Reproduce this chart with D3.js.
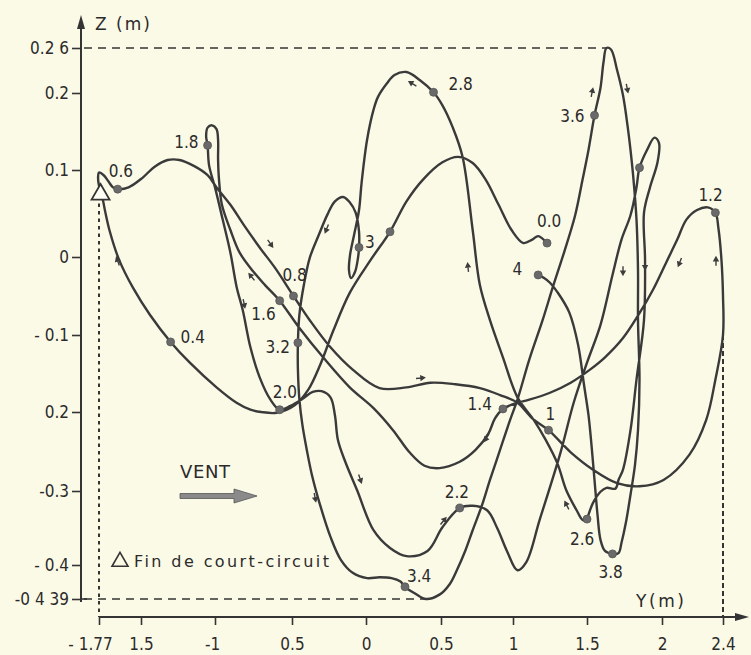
<!DOCTYPE html>
<html>
<head>
<meta charset="utf-8">
<script src="https://cdn.jsdelivr.net/npm/d3@7"></script>
<style>
  html, body { margin: 0; padding: 0; background: #fbfae7; }
  svg { display: block; }
  text { font-family: "DejaVu Sans Condensed", "DejaVu Sans", sans-serif; fill: #2b2b2b; }
  .wide { font-family: "DejaVu Sans", sans-serif; }
</style>
</head>
<body>
<svg id="chart" width="751" height="655"></svg>
<script>
// Horizontal graduations: lateral displacement Y (m), with the labels as printed
const yTickValues = [-1.77, -1.5, -1, -0.5, 0, 0.5, 1, 1.5, 2, 2.4];
const yTickLabels = ["- 1.77", "1.5", "-1", "0.5", "0", "0.5", "1", "1.5", "2", "2.4"];

// Vertical graduations: vertical displacement Z (m)
const zTickValues = [0.26, 0.2, 0.1, 0, -0.1, -0.2, -0.3, -0.4, -0.439];
const zTickLabels = ["0.2 6", "0.2", "0.1", "0", "- 0.1", "0.2", "-0.3", "- 0.4", "-0 4 39"];

// Conductor trajectory [Y, Z] in metres, in time order from t = 0.0 s to t = 4 s
const trajectory = [
  [1.23, 0.016], [1.17, 0.024], [1.13, 0.020], [1.07, 0.016], [0.99, 0.031], [0.90, 0.060],
  [0.81, 0.089], [0.72, 0.109], [0.62, 0.117], [0.51, 0.110], [0.38, 0.089], [0.27, 0.064],
  [0.16, 0.029],
  [0.03, -0.004], [-0.11, -0.046], [-0.22, -0.094], [-0.31, -0.139], [-0.39, -0.171], [-0.48, -0.191],
  [-0.60, -0.201], [-0.70, -0.200], [-0.77, -0.197], [-0.86, -0.188], [-0.99, -0.168], [-1.17, -0.136],
  [-1.30, -0.109],
  [-1.44, -0.074], [-1.55, -0.040], [-1.64, -0.004], [-1.70, 0.029], [-1.73, 0.052], [-1.75, 0.070],
  [-1.77, 0.082], [-1.776, 0.091], [-1.77, 0.097], [-1.74, 0.094], [-1.71, 0.087], [-1.68, 0.080],
  [-1.65, 0.078],
  [-1.58, 0.080], [-1.49, 0.091], [-1.41, 0.104], [-1.32, 0.113], [-1.24, 0.113], [-1.14, 0.105],
  [-1.05, 0.094], [-0.99, 0.080], [-0.90, 0.060], [-0.81, 0.036], [-0.71, 0.011], [-0.61, -0.014],
  [-0.49, -0.050],
  [-0.38, -0.081], [-0.24, -0.116], [-0.09, -0.145], [0.09, -0.169], [0.27, -0.168], [0.43, -0.162],
  [0.60, -0.164], [0.77, -0.169], [0.91, -0.178], [1.03, -0.188], [1.13, -0.208], [1.24, -0.223],
  [1.39, -0.251], [1.54, -0.273], [1.70, -0.290], [1.85, -0.294], [2.01, -0.286], [2.18, -0.254],
  [2.29, -0.210], [2.35, -0.158], [2.40, -0.100], [2.40, -0.050], [2.39, -0.004], [2.37, 0.033],
  [2.35, 0.051],
  [2.30, 0.057], [2.23, 0.054], [2.16, 0.043], [2.10, 0.020], [2.03, -0.006], [1.94, -0.042],
  [1.85, -0.072], [1.74, -0.104], [1.62, -0.129], [1.52, -0.145], [1.39, -0.162], [1.25, -0.175],
  [1.11, -0.184], [1.03, -0.188], [0.93, -0.196],
  [0.875, -0.208], [0.83, -0.227], [0.74, -0.248], [0.63, -0.263], [0.49, -0.271], [0.39, -0.268],
  [0.29, -0.251], [0.18, -0.223], [0.05, -0.195], [-0.11, -0.168], [-0.29, -0.129], [-0.45, -0.091],
  [-0.58, -0.056],
  [-0.675, -0.036], [-0.75, -0.019], [-0.84, 0.005], [-0.90, 0.031], [-0.955, 0.060], [-0.974, 0.089],
  [-0.98, 0.113], [-0.98, 0.139], [-0.99, 0.153], [-1.02, 0.158], [-1.05, 0.155], [-1.06, 0.144],
  [-1.05, 0.132],
  [-1.04, 0.106], [-1.00, 0.080], [-0.95, 0.043], [-0.90, 0.005], [-0.86, -0.038], [-0.82, -0.068],
  [-0.77, -0.116], [-0.71, -0.155], [-0.64, -0.184], [-0.58, -0.197],
  [-0.51, -0.192], [-0.43, -0.183], [-0.36, -0.174], [-0.30, -0.173], [-0.24, -0.181], [-0.21, -0.204],
  [-0.19, -0.235], [-0.14, -0.263], [-0.06, -0.299], [0.05, -0.353], [0.16, -0.377], [0.27, -0.388],
  [0.41, -0.381], [0.51, -0.349], [0.63, -0.323],
  [0.72, -0.320], [0.82, -0.326], [0.89, -0.350], [0.96, -0.382], [1.03, -0.406], [1.09, -0.396],
  [1.18, -0.339], [1.32, -0.252], [1.41, -0.188], [1.50, -0.136], [1.59, -0.087], [1.67, -0.023],
  [1.73, 0.020], [1.79, 0.048], [1.83, 0.080], [1.85, 0.103],
  [1.90, 0.126], [1.95, 0.142], [1.98, 0.135], [1.97, 0.110], [1.92, 0.080], [1.88, 0.051],
  [1.887, -0.004], [1.88, -0.081], [1.83, -0.158], [1.79, -0.223], [1.74, -0.273], [1.71, -0.286],
  [1.69, -0.297], [1.63, -0.296], [1.59, -0.301], [1.54, -0.316], [1.51, -0.332], [1.50, -0.338],
  [1.47, -0.339], [1.43, -0.326], [1.36, -0.299], [1.30, -0.265], [1.22, -0.235], [1.14, -0.210],
  [1.03, -0.181], [0.93, -0.129], [0.84, -0.081], [0.77, -0.036], [0.72, 0.031], [0.65, 0.117],
  [0.58, 0.156], [0.51, 0.184], [0.45, 0.201],
  [0.36, 0.217], [0.27, 0.228], [0.19, 0.224], [0.14, 0.213], [0.08, 0.195], [0.05, 0.178],
  [0.007, 0.139], [-0.03, 0.085], [-0.047, 0.054], [-0.081, 0.025], [-0.108, 0.002], [-0.115, -0.017],
  [-0.101, -0.027], [-0.074, -0.019], [-0.054, -0.001], [-0.047, 0.011],
  [-0.047, 0.029], [-0.07, 0.051], [-0.11, 0.063], [-0.155, 0.069], [-0.21, 0.064], [-0.26, 0.049],
  [-0.32, 0.025], [-0.38, -0.001], [-0.42, -0.036], [-0.45, -0.074], [-0.46, -0.110],
  [-0.46, -0.145], [-0.45, -0.184], [-0.43, -0.216], [-0.40, -0.248], [-0.365, -0.280], [-0.31, -0.319],
  [-0.24, -0.362], [-0.17, -0.393], [-0.09, -0.409], [0.007, -0.415], [0.09, -0.414], [0.17, -0.415],
  [0.23, -0.419], [0.26, -0.425],
  [0.33, -0.433], [0.40, -0.439], [0.49, -0.434], [0.56, -0.422], [0.61, -0.406], [0.67, -0.380],
  [0.72, -0.353], [0.785, -0.319], [0.84, -0.286], [0.91, -0.248], [0.98, -0.210], [1.03, -0.184],
  [1.11, -0.132], [1.20, -0.081], [1.27, -0.038], [1.35, 0.008], [1.42, 0.048], [1.47, 0.089],
  [1.51, 0.126], [1.55, 0.171],
  [1.59, 0.207], [1.61, 0.241], [1.63, 0.260], [1.66, 0.258], [1.70, 0.231], [1.74, 0.197],
  [1.77, 0.158], [1.79, 0.126], [1.81, 0.089], [1.83, 0.043], [1.84, -0.017], [1.84, -0.081],
  [1.85, -0.158], [1.84, -0.223], [1.82, -0.267], [1.79, -0.305], [1.76, -0.342], [1.73, -0.370],
  [1.71, -0.384], [1.67, -0.385],
  [1.62, -0.381], [1.59, -0.366], [1.57, -0.332], [1.55, -0.286], [1.53, -0.242], [1.51, -0.204],
  [1.48, -0.165], [1.44, -0.113], [1.38, -0.071], [1.30, -0.045], [1.25, -0.033], [1.21, -0.027],
  [1.17, -0.023]
];

// Time marks every 0.2 s (two of them carry no printed label)
const markLabels = ["0.0", "", "0.4", "0.6", "0.8", "1", "1.2", "1.4", "1.6", "1.8", "2.0",
                    "2.2", "", "2.6", "2.8", "3", "3.2", "3.4", "3.6", "3.8", "4"];
const markY = [1.23, 0.16, -1.30, -1.65, -0.49, 1.24, 2.35, 0.93, -0.58, -1.05, -0.58,
               0.63, 1.85, 1.50, 0.45, -0.047, -0.46, 0.26, 1.55, 1.67, 1.17];
const markZ = [0.016, 0.029, -0.109, 0.078, -0.050, -0.223, 0.051, -0.196, -0.056, 0.132, -0.197,
               -0.323, 0.103, -0.338, 0.201, 0.011, -0.110, -0.425, 0.171, -0.385, -0.023];

// End of the short circuit
const shortCircuitEnd = { Y: -1.76, Z: 0.074 };

// Small direction-of-motion arrows beside the trajectory
const arrowY = [-1.648, -0.643, -0.76, -0.812, -0.264, -0.345, -0.041, 0.36, 0.819, 0.514,
                1.365, 0.688, 0.313, 1.533, 1.767, 1.74, 1.887, 2.118, 2.354];
const arrowZ = [-0.006, 0.016, -0.026, -0.059, 0.033, -0.308, -0.284, -0.156, -0.232, -0.341,
                -0.320, -0.014, 0.212, 0.200, 0.207, -0.017, -0.010, -0.006, -0.006];
const arrowAngle = [-109, 55, -129, 79, 112, 79, 71, -5, 121, -51,
                    -117, -96, -149, -79, 79, 90, 90, 112, -90];

const W = 751, H = 655;
const ink = "#343434";
const svg = d3.select("#chart");
svg.append("rect").attr("width", W).attr("height", H).attr("fill", "#fbfae7");

// The hand-drawn graduations are not perfectly even, so both scales are piecewise
const x = d3.scaleLinear().domain(yTickValues).range([99, 141, 215, 292, 366, 441, 513, 587, 662, 723]);
const z = d3.scaleLinear().domain(zTickValues).range([48, 93, 170, 257, 335, 412, 491, 565, 599]);

const axisRow = 617;   // pixel row of the Y axis line
const axisCol = 81;    // pixel column of the Z axis line

// ---- dashed extent lines ----
const highest = d3.greatest(trajectory, d => d[1]);
const lowest = d3.least(trajectory, d => d[1]);
const rightmost = d3.greatest(trajectory, d => d[0]);
const guides = svg.append("g").attr("stroke", ink).attr("fill", "none");
guides.append("line")
  .attr("x1", axisCol + 3).attr("x2", x(highest[0]))
  .attr("y1", z(0.26)).attr("y2", z(0.26))
  .attr("stroke-width", 1.6).attr("stroke-dasharray", "8 6");
guides.append("line")
  .attr("x1", axisCol + 3).attr("x2", x(lowest[0]) + 4)
  .attr("y1", z(-0.439)).attr("y2", z(-0.439))
  .attr("stroke-width", 1.4).attr("stroke-dasharray", "8 6");
guides.append("line")
  .attr("x1", x(-1.77)).attr("x2", x(-1.77))
  .attr("y1", z(shortCircuitEnd.Z) + 11).attr("y2", axisRow)
  .attr("stroke-width", 2).attr("stroke-dasharray", "3.5 4");
guides.append("line")
  .attr("x1", x(2.4)).attr("x2", x(2.4))
  .attr("y1", z(rightmost[1])).attr("y2", axisRow)
  .attr("stroke-width", 2).attr("stroke-dasharray", "5 3");

// ---- axes ----
const gx = svg.append("g").attr("transform", `translate(0,${axisRow})`)
  .call(d3.axisBottom(x).tickValues(yTickValues).tickFormat((d, i) => yTickLabels[i])
    .tickSize(8).tickPadding(13));
gx.select(".domain").remove();
gx.selectAll(".tick line").attr("stroke", ink).attr("stroke-width", 1.6);
gx.selectAll(".tick text").attr("font-size", 17).attr("fill", "#2b2b2b")
  .attr("font-family", "DejaVu Sans Condensed, DejaVu Sans, sans-serif")
  .attr("dx", (d, i) => i === 0 ? -9 : (yTickLabels[i].startsWith("-") ? -3 : 0));

const gz = svg.append("g").attr("transform", `translate(${axisCol},0)`)
  .call(d3.axisLeft(z).tickValues(zTickValues).tickFormat((d, i) => zTickLabels[i])
    .tickSize(9).tickPadding(3));
gz.select(".domain").remove();
gz.selectAll(".tick line").attr("stroke", ink).attr("stroke-width", 1.6);
gz.selectAll(".tick text").attr("font-size", 17).attr("fill", "#2b2b2b")
  .attr("font-family", "DejaVu Sans Condensed, DejaVu Sans, sans-serif");
// the lowest graduation crosses the axis
svg.append("line").attr("x1", axisCol).attr("x2", axisCol + 6)
  .attr("y1", z(-0.439)).attr("y2", z(-0.439)).attr("stroke", ink).attr("stroke-width", 1.6);

// axis lines with arrow heads
const axes = svg.append("g").attr("stroke", ink).attr("stroke-width", 2).attr("fill", ink);
axes.append("line").attr("x1", axisCol).attr("x2", axisCol).attr("y1", z(-0.439) + 3).attr("y2", 24);
axes.append("path").attr("stroke", "none")
  .attr("d", `M${axisCol},15 L${axisCol - 4},29 L${axisCol + 4},29 Z`);
axes.append("line").attr("x1", x(-1.77)).attr("x2", 740).attr("y1", axisRow).attr("y2", axisRow);
axes.append("path").attr("stroke", "none")
  .attr("d", `M749,${axisRow} L735,${axisRow - 4} L735,${axisRow + 4} Z`);

svg.append("text").attr("class", "wide").attr("x", 95).attr("y", 30).attr("font-size", 17)
  .attr("textLength", 55).attr("lengthAdjust", "spacing").text("Z (m)");
svg.append("text").attr("class", "wide").attr("x", 636).attr("y", 607).attr("font-size", 17)
  .attr("textLength", 48).attr("lengthAdjust", "spacing").text("Y(m)");

// ---- trajectory ----
const line = d3.line()
  .x(d => x(d[0])).y(d => z(d[1]))
  .curve(d3.curveCatmullRom.alpha(0.5));
svg.append("path").datum(trajectory)
  .attr("d", line)
  .attr("fill", "none").attr("stroke", "#3a3a3a").attr("stroke-width", 2.4)
  .attr("stroke-linejoin", "round").attr("stroke-linecap", "round");

// direction arrows
const arrows = svg.append("g").attr("fill", "#3d3d3d").attr("stroke", "#3d3d3d");
arrowY.forEach((v, i) => {
  arrows.append("path")
    .attr("transform", `translate(${x(v)},${z(arrowZ[i])}) rotate(${arrowAngle[i]})`)
    .attr("stroke-width", 1.4)
    .attr("d", "M-4,0 L3,0 M4.5,0 L1,-2 L1,2 Z");
});

// time marks
const marks = svg.append("g");
markY.forEach((v, i) => {
  marks.append("circle").attr("cx", x(v)).attr("cy", z(markZ[i])).attr("r", 4)
    .attr("fill", "#6a6a6a").attr("stroke", "#555").attr("stroke-width", 0.8);
});

const labelPlacement = {
  "0.0": ["start", -10, -16], "0.4": ["start", 10, 1], "0.6": ["start", -9, -12],
  "0.8": ["start", -11, -15], "1": ["start", -3, -10], "1.2": ["start", -17, -12],
  "1.4": ["end", -11, 1], "1.6": ["end", -4, 19], "1.8": ["end", -9, 3],
  "2.0": ["start", -7, -12], "2.2": ["start", -15, -10], "2.6": ["start", -17, 26],
  "2.8": ["start", 15, -2], "3": ["start", 6, 1], "3.2": ["end", -8, 10],
  "3.4": ["start", 2, -5], "3.6": ["end", -10, 7], "3.8": ["start", -14, 24], "4": ["end", -16, 0]
};
markLabels.forEach((lab, i) => {
  if (!lab) return;
  const p = labelPlacement[lab];
  marks.append("text")
    .attr("x", x(markY[i]) + p[1]).attr("y", z(markZ[i]) + p[2])
    .attr("text-anchor", p[0]).attr("font-size", 17).text(lab);
});

// end-of-short-circuit triangle
function triangle(cx, cy, s) {
  const h = s * 0.866;
  return `M${cx},${cy - h * 0.55} L${cx + s / 2},${cy + h * 0.45} L${cx - s / 2},${cy + h * 0.45} Z`;
}
svg.append("path")
  .attr("d", triangle(x(shortCircuitEnd.Y), z(shortCircuitEnd.Z), 18))
  .attr("fill", "#fffef6").attr("stroke", ink).attr("stroke-width", 1.8);

// ---- legend: wind direction and triangle key ----
svg.append("text").attr("class", "wide").attr("x", 180).attr("y", 478).attr("font-size", 18)
  .attr("textLength", 50).attr("lengthAdjust", "spacing").text("VENT");
svg.append("path")
  .attr("d", "M180,493.5 L234,493.5 L234,489 L257,496 L234,503 L234,498.5 L180,498.5 Z")
  .attr("fill", "#8a8a8a").attr("stroke", "#555").attr("stroke-width", 0.8);

svg.append("path").attr("d", triangle(120, 560, 16))
  .attr("fill", "none").attr("stroke", ink).attr("stroke-width", 1.6);
svg.append("text").attr("class", "wide").attr("x", 134).attr("y", 567).attr("font-size", 16)
  .attr("textLength", 195).attr("lengthAdjust", "spacing").text("Fin de court-circuit");
</script>
</body>
</html>
